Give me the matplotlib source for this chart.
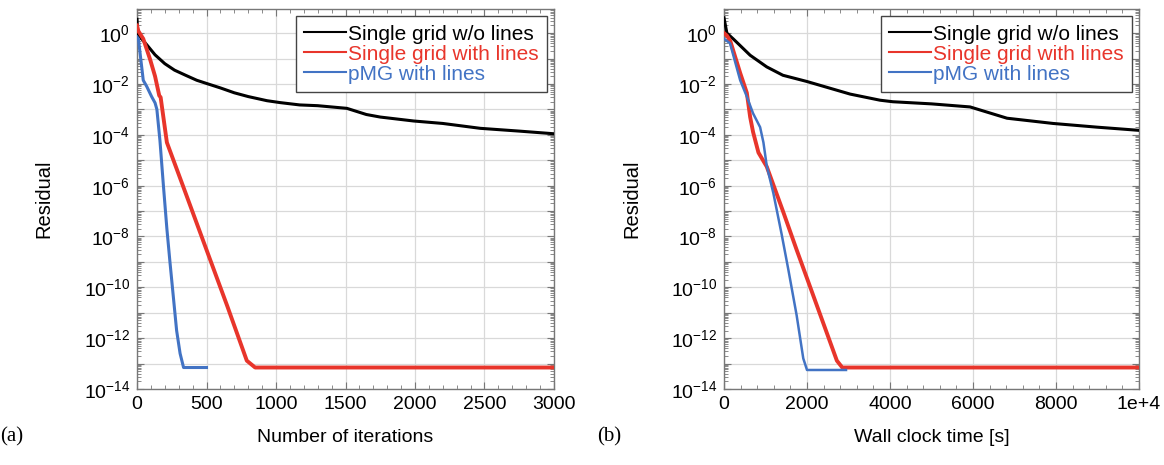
import numpy as np
import matplotlib
matplotlib.use("Agg")
import matplotlib.pyplot as plt
from matplotlib.ticker import FixedLocator, FuncFormatter, LogLocator, AutoMinorLocator, NullFormatter

plt.rcParams["font.family"] = ["Liberation Sans", "DejaVu Sans"]
plt.rcParams["mathtext.fontset"] = "custom"
plt.rcParams["mathtext.rm"] = "Liberation Sans"
plt.rcParams["mathtext.it"] = "Liberation Sans:italic"

BLACK = "#000000"
RED = "#e8352b"
BLUE = "#4273c4"
LABELS = ["Single grid w/o lines", "Single grid with lines", "pMG with lines"]

# (a) residual vs number of iterations
iter_black = [0, 5, 30, 70, 130, 200, 270, 350, 430, 500, 600, 700, 800, 935, 1030, 1170,
              1300, 1510, 1650, 1750, 1990, 2200, 2470, 2750, 3000]
res_iter_black = [3.5, 1.0, 0.63, 0.35, 0.14, 6.3e-2, 3.5e-2, 2.2e-2, 1.4e-2, 1.05e-2, 7e-3,
                  4.5e-3, 3.2e-3, 2.2e-3, 1.85e-3, 1.5e-3, 1.4e-3, 1.1e-3, 6.3e-4, 5.0e-4,
                  3.5e-4, 2.8e-4, 1.8e-4, 1.4e-4, 1.1e-4]

iter_red = [0, 10, 45, 95, 130, 160, 170, 215, 330, 500, 650, 790, 850, 3000]
res_iter_red = [2.0, 1.2, 0.6, 9e-2, 2e-2, 3.5e-3, 3e-3, 5e-5, 1e-6, 3e-9, 1.8e-11,
                1.3e-13, 7e-14, 7e-14]

iter_blue = [0, 10, 25, 45, 70, 105, 130, 143, 165, 190, 215, 237, 285, 310, 335, 500]
res_iter_blue = [0.7, 0.6, 0.12, 1.4e-2, 8e-3, 3.2e-3, 1.8e-3, 1e-3, 6e-5, 1e-6, 2e-8,
                 1e-9, 2e-12, 2.5e-13, 7e-14, 7e-14]

# (b) residual vs wall clock time [s]
time_black = [0, 70, 220, 630, 1030, 1420, 2000, 3040, 3760, 4070, 5000, 5930, 6820,
              7930, 8990, 10000]
res_time_black = [4.0, 1.0, 0.6, 0.135, 4.7e-2, 2.2e-2, 1.25e-2, 4e-3, 2.3e-3, 2e-3,
                  1.65e-3, 1.25e-3, 4.5e-4, 2.8e-4, 2e-4, 1.5e-4]

time_red = [0, 70, 150, 390, 550, 630, 700, 830, 1030, 1420, 1750, 2070, 2720, 2850, 10000]
res_time_red = [1.0, 0.8, 0.5, 2.7e-2, 4.5e-3, 5e-4, 1.3e-4, 2e-5, 5.6e-6, 1e-7, 3e-9,
                1.1e-10, 1.3e-13, 7e-14, 7e-14]

time_blue = [0, 145, 390, 550, 700, 870, 950, 1030, 1190, 1390, 1550, 1750, 1910, 2000, 2940]
res_time_blue = [0.6, 0.4, 1.4e-2, 3.2e-3, 7e-4, 2e-4, 5e-5, 6e-6, 5e-7, 1.2e-8, 5e-10,
                 8e-12, 1.6e-13, 5.6e-14, 5.6e-14]


def log_label(y, pos):
    e = int(round(np.log10(y)))
    if e % 2:
        return ""
    return r"$\mathregular{10^{%d}}$" % e


def setup_axes(ax, xmax, xstep, xlabel, xticklabels=None):
    ax.set_yscale("log")
    ax.set_ylim(1e-14, 10 ** 0.95)
    ax.set_xlim(0, xmax)
    ax.xaxis.set_major_locator(FixedLocator(np.arange(0, xmax + 1, xstep)))
    ax.xaxis.set_minor_locator(AutoMinorLocator(5))
    if xticklabels:
        ax.set_xticklabels(xticklabels)
    ax.yaxis.set_major_locator(FixedLocator([10.0 ** e for e in range(-14, 1)]))
    ax.yaxis.set_major_formatter(FuncFormatter(log_label))
    ax.yaxis.set_minor_locator(LogLocator(base=10, subs=np.arange(2, 10), numticks=100))
    ax.yaxis.set_minor_formatter(NullFormatter())
    ax.tick_params(which="both", direction="in", top=True, right=True,
                   labelsize=14, color="#777777", pad=5)
    ax.tick_params(which="major", length=5)
    ax.tick_params(which="minor", length=3)
    ax.grid(True, which="major", color="#d9d9d9", linewidth=0.9)
    for sp in ax.spines.values():
        sp.set_color("#777777")
        sp.set_linewidth(1.0)
    ax.set_xlabel(xlabel, fontsize=14)
    ax.set_ylabel("Residual", fontsize=14.5)
    ax.xaxis.set_label_coords(0.5, -0.105)
    ax.yaxis.set_label_coords(-0.2, 0.5)


def add_legend(ax):
    leg = ax.legend(loc="upper right", fontsize=15, frameon=True, fancybox=False,
                    framealpha=1, edgecolor="#444444", labelspacing=0.05,
                    handlelength=2.0, handletextpad=0.1, borderpad=0.4,
                    borderaxespad=0.35)
    leg.get_frame().set_linewidth(1.0)
    for txt, col in zip(leg.get_texts(), [BLACK, RED, BLUE]):
        txt.set_color(col)
    for line in leg.get_lines():
        line.set_linewidth(1.5)


fig = plt.figure(figsize=(11.64, 4.65), dpi=100)
ax1 = fig.add_axes([137 / 1164, 1 - 389 / 465, 417 / 1164, 380 / 465])
ax2 = fig.add_axes([724 / 1164, 1 - 389 / 465, 415 / 1164, 380 / 465])

ax1.plot(iter_black, res_iter_black, color=BLACK, lw=2.2, label=LABELS[0], zorder=3)
ax1.plot(iter_red, res_iter_red, color=RED, lw=2.8, label=LABELS[1], zorder=4)
ax1.plot(iter_blue, res_iter_blue, color=BLUE, lw=2.2, label=LABELS[2], zorder=5)
setup_axes(ax1, 3000, 500, "Number of iterations")
add_legend(ax1)

ax2.plot(time_black, res_time_black, color=BLACK, lw=2.2, label=LABELS[0], zorder=3)
ax2.plot(time_red, res_time_red, color=RED, lw=2.8, label=LABELS[1], zorder=4)
ax2.plot(time_blue, res_time_blue, color=BLUE, lw=1.8, label=LABELS[2], zorder=5)
setup_axes(ax2, 10000, 2000, "Wall clock time [s]",
           ["0", "2000", "4000", "6000", "8000", "1e+4"])
add_legend(ax2)

fig.text(0.0, 1 - 437 / 465, "(a)", family="Liberation Serif", fontsize=15, va="center")
fig.text(597 / 1164, 1 - 437 / 465, "(b)", family="Liberation Serif", fontsize=15, va="center")

fig.savefig("out.png", dpi=100)
